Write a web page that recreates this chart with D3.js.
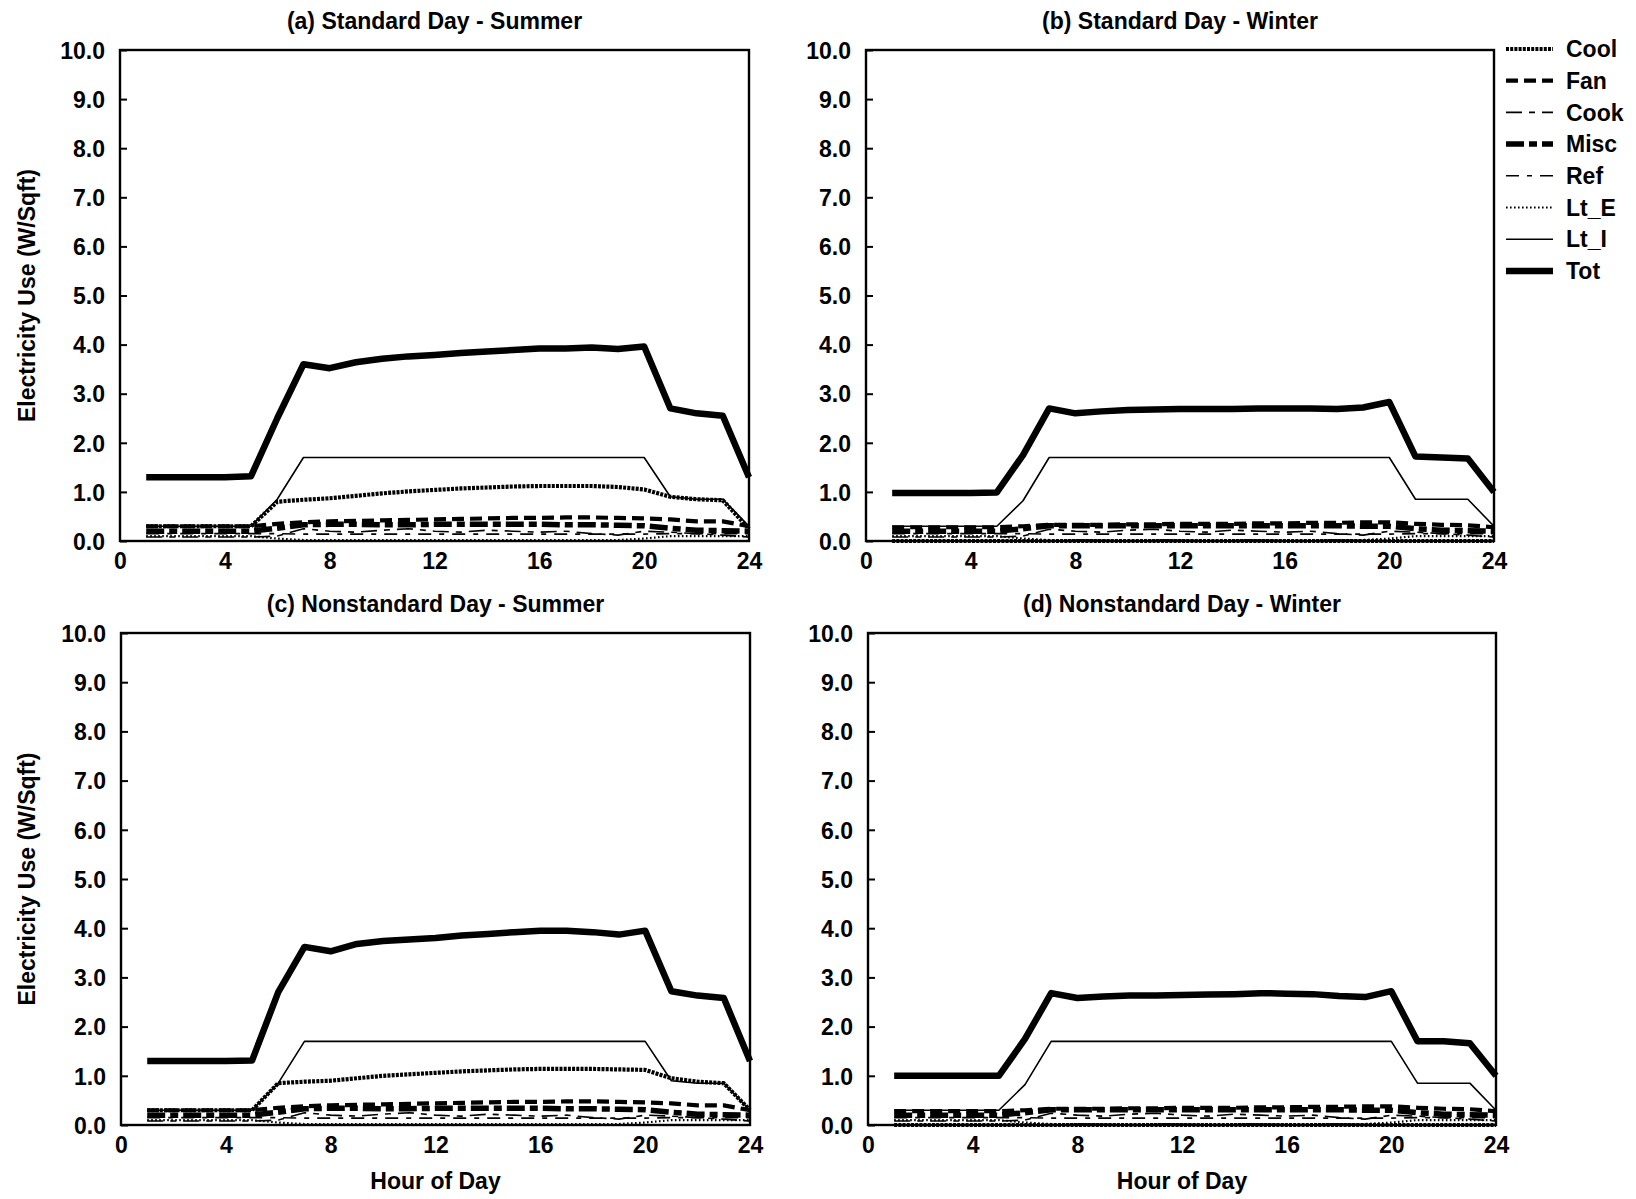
<!DOCTYPE html>
<html><head><meta charset="utf-8">
<script src="https://cdn.jsdelivr.net/npm/d3@7"></script>
<style>
html,body{margin:0;padding:0;background:#fff;}
svg text{font-family:"Liberation Sans",Arial,Helvetica,sans-serif;font-weight:bold;fill:#000;}
</style></head>
<body>
<svg id="chart" width="1636" height="1199"></svg>
<script>
// ---------- data ----------
const hours = [1,2,3,4,5,6,7,8,9,10,11,12,13,14,15,16,17,18,19,20,21,22,23,24];
const xTicks = [0,4,8,12,16,20,24];
const yTicks = [0,1,2,3,4,5,6,7,8,9,10];
const seriesNames = ["Cool","Fan","Cook","Misc","Ref","Lt_E","Lt_I","Tot"];
const panelTitles = ["(a) Standard Day - Summer","(b) Standard Day - Winter","(c) Nonstandard Day - Summer","(d) Nonstandard Day - Winter"];

// (a) Standard Day - Summer
const cool_a = [0.30,0.30,0.30,0.30,0.30,0.80,0.84,0.87,0.92,0.97,1.01,1.04,1.07,1.09,1.11,1.12,1.12,1.12,1.10,1.05,0.90,0.85,0.83,0.25];
const fan_a  = [0.30,0.30,0.30,0.30,0.30,0.35,0.38,0.40,0.41,0.42,0.43,0.44,0.45,0.46,0.47,0.47,0.48,0.48,0.47,0.46,0.44,0.40,0.40,0.30];
const cook_a = [0.08,0.08,0.08,0.08,0.08,0.10,0.25,0.20,0.18,0.22,0.25,0.20,0.18,0.22,0.20,0.18,0.20,0.15,0.12,0.20,0.18,0.15,0.12,0.08];
const misc_a = [0.20,0.20,0.20,0.20,0.20,0.26,0.33,0.34,0.34,0.33,0.33,0.34,0.34,0.34,0.34,0.34,0.33,0.33,0.32,0.31,0.26,0.22,0.21,0.20];
const ref_a  = [0.15,0.15,0.15,0.15,0.15,0.15,0.14,0.14,0.14,0.14,0.14,0.14,0.14,0.14,0.14,0.14,0.14,0.14,0.14,0.14,0.15,0.15,0.15,0.15];
const lte_a  = [0.10,0.10,0.10,0.10,0.10,0.05,0.02,0.02,0.02,0.02,0.02,0.02,0.02,0.02,0.02,0.02,0.02,0.02,0.02,0.05,0.10,0.10,0.10,0.10];
const lti_a  = [0.30,0.30,0.30,0.30,0.30,0.85,1.70,1.70,1.70,1.70,1.70,1.70,1.70,1.70,1.70,1.70,1.70,1.70,1.70,1.70,0.90,0.85,0.85,0.30];
const tot_a  = [1.30,1.30,1.30,1.30,1.32,2.50,3.60,3.52,3.64,3.71,3.76,3.79,3.83,3.86,3.89,3.92,3.92,3.94,3.91,3.96,2.70,2.60,2.55,1.30];

// (b) Standard Day - Winter
const cool_b = [0,0,0,0,0,0,0,0,0,0,0,0,0,0,0,0,0,0,0,0,0,0,0,0];
const fan_b  = [0.28,0.28,0.28,0.28,0.28,0.30,0.33,0.33,0.33,0.34,0.34,0.35,0.35,0.35,0.36,0.36,0.37,0.37,0.38,0.38,0.35,0.33,0.32,0.28];
const cook_b = [0.08,0.08,0.08,0.08,0.08,0.10,0.24,0.20,0.18,0.22,0.24,0.20,0.18,0.22,0.20,0.18,0.20,0.15,0.12,0.20,0.18,0.15,0.12,0.08];
const misc_b = [0.20,0.20,0.20,0.20,0.20,0.25,0.31,0.31,0.31,0.31,0.31,0.31,0.31,0.31,0.31,0.31,0.31,0.31,0.30,0.30,0.25,0.22,0.21,0.20];
const ref_b  = [0.15,0.15,0.15,0.15,0.15,0.15,0.14,0.14,0.14,0.14,0.14,0.14,0.14,0.14,0.14,0.14,0.14,0.14,0.14,0.14,0.15,0.15,0.15,0.15];
const lte_b  = [0.10,0.10,0.10,0.10,0.10,0.05,0.02,0.02,0.02,0.02,0.02,0.02,0.02,0.02,0.02,0.02,0.02,0.02,0.02,0.05,0.10,0.10,0.10,0.10];
const lti_b  = [0.30,0.30,0.30,0.30,0.30,0.82,1.70,1.70,1.70,1.70,1.70,1.70,1.70,1.70,1.70,1.70,1.70,1.70,1.70,1.70,0.85,0.85,0.85,0.30];
const tot_b  = [0.98,0.98,0.98,0.98,0.99,1.75,2.70,2.60,2.64,2.67,2.68,2.69,2.69,2.69,2.70,2.70,2.70,2.69,2.72,2.83,1.72,1.70,1.68,1.00];

// (c) Nonstandard Day - Summer
const cool_c = [0.30,0.30,0.30,0.30,0.30,0.85,0.88,0.90,0.95,1.00,1.03,1.06,1.09,1.11,1.13,1.14,1.14,1.14,1.13,1.12,0.95,0.88,0.85,0.30];
const fan_c  = [0.30,0.30,0.30,0.30,0.30,0.35,0.38,0.40,0.41,0.42,0.43,0.44,0.45,0.46,0.47,0.47,0.48,0.48,0.47,0.46,0.44,0.40,0.40,0.30];
const cook_c = [0.08,0.08,0.08,0.08,0.08,0.10,0.25,0.20,0.18,0.22,0.25,0.20,0.18,0.22,0.20,0.18,0.20,0.15,0.12,0.20,0.18,0.15,0.12,0.08];
const misc_c = [0.20,0.20,0.20,0.20,0.20,0.26,0.33,0.34,0.34,0.33,0.33,0.34,0.34,0.34,0.34,0.34,0.33,0.33,0.32,0.31,0.26,0.22,0.21,0.20];
const ref_c  = [0.15,0.15,0.15,0.15,0.15,0.15,0.14,0.14,0.14,0.14,0.14,0.14,0.14,0.14,0.14,0.14,0.14,0.14,0.14,0.14,0.15,0.15,0.15,0.15];
const lte_c  = [0.10,0.10,0.10,0.10,0.10,0.05,0.02,0.02,0.02,0.02,0.02,0.02,0.02,0.02,0.02,0.02,0.02,0.02,0.02,0.05,0.10,0.10,0.10,0.10];
const lti_c  = [0.30,0.30,0.30,0.30,0.30,0.85,1.70,1.70,1.70,1.70,1.70,1.70,1.70,1.70,1.70,1.70,1.70,1.70,1.70,1.70,0.90,0.85,0.85,0.30];
const tot_c  = [1.30,1.30,1.30,1.30,1.31,2.70,3.62,3.53,3.68,3.74,3.77,3.80,3.85,3.88,3.92,3.95,3.95,3.92,3.87,3.95,2.72,2.63,2.58,1.30];

// (d) Nonstandard Day - Winter
const cool_d = [0,0,0,0,0,0,0,0,0,0,0,0,0,0,0,0,0,0,0,0,0,0,0,0];
const fan_d  = [0.28,0.28,0.28,0.28,0.28,0.30,0.33,0.33,0.33,0.34,0.34,0.35,0.35,0.35,0.36,0.36,0.37,0.37,0.38,0.38,0.35,0.33,0.32,0.28];
const cook_d = [0.08,0.08,0.08,0.08,0.08,0.10,0.24,0.20,0.18,0.22,0.24,0.20,0.18,0.22,0.20,0.18,0.20,0.15,0.12,0.20,0.18,0.15,0.12,0.08];
const misc_d = [0.20,0.20,0.20,0.20,0.20,0.25,0.31,0.31,0.31,0.31,0.31,0.31,0.31,0.31,0.31,0.31,0.31,0.31,0.30,0.30,0.25,0.22,0.21,0.20];
const ref_d  = [0.15,0.15,0.15,0.15,0.15,0.15,0.14,0.14,0.14,0.14,0.14,0.14,0.14,0.14,0.14,0.14,0.14,0.14,0.14,0.14,0.15,0.15,0.15,0.15];
const lte_d  = [0.10,0.10,0.10,0.10,0.10,0.05,0.02,0.02,0.02,0.02,0.02,0.02,0.02,0.02,0.02,0.02,0.02,0.02,0.02,0.05,0.10,0.10,0.10,0.10];
const lti_d  = [0.30,0.30,0.30,0.30,0.30,0.82,1.70,1.70,1.70,1.70,1.70,1.70,1.70,1.70,1.70,1.70,1.70,1.70,1.70,1.70,0.85,0.85,0.85,0.30];
const tot_d  = [1.00,1.00,1.00,1.00,1.00,1.75,2.68,2.58,2.61,2.63,2.63,2.64,2.65,2.66,2.68,2.67,2.66,2.62,2.60,2.72,1.70,1.70,1.66,1.00];

const panelData = [
  [cool_a,fan_a,cook_a,misc_a,ref_a,lte_a,lti_a,tot_a],
  [cool_b,fan_b,cook_b,misc_b,ref_b,lte_b,lti_b,tot_b],
  [cool_c,fan_c,cook_c,misc_c,ref_c,lte_c,lti_c,tot_c],
  [cool_d,fan_d,cook_d,misc_d,ref_d,lte_d,lti_d,tot_d]
];

// ---------- styles ----------
const styles = {
  "Cool": {w:4.2, dash:"3,1.2"},
  "Fan":  {w:4.2, dash:"12,6"},
  "Cook": {w:1.6, dash:"16,7,6,7"},
  "Misc": {w:5.5, dash:"18,5,8,5"},
  "Ref":  {w:1.6, dash:"13,8,5,8"},
  "Lt_E": {w:2.2, dash:"1.6,2.4"},
  "Lt_I": {w:1.6, dash:null},
  "Tot":  {w:6.5, dash:null}
};

// ---------- layout ----------
const panels = [
  {x0:120, x1:749, y0:50,  y1:541},
  {x0:866, x1:1494,y0:50,  y1:541},
  {x0:121, x1:750, y0:633, y1:1125},
  {x0:868, x1:1496,y0:633, y1:1125}
];

const svg = d3.select("#chart");
const FS = 23;

panels.forEach((p,pi)=>{
  const x = d3.scaleLinear().domain([0,24]).range([p.x0,p.x1]);
  const y = d3.scaleLinear().domain([0,10]).range([p.y1,p.y0]);
  const g = svg.append("g");

  g.append("text").attr("x",(p.x0+p.x1)/2).attr("y",p.y0-21)
    .attr("text-anchor","middle").style("font-size",FS+"px").text(panelTitles[pi]);

  const ya = d3.axisLeft(y).tickValues(yTicks).tickFormat(d3.format(".1f")).tickSizeInner(-7).tickSizeOuter(0).tickPadding(15);
  const yg = g.append("g").attr("transform",`translate(${p.x0},0)`).call(ya);
  yg.select(".domain").remove();
  yg.selectAll("line").attr("stroke","#000").attr("stroke-width",2);
  yg.selectAll("text").style("font-size",FS+"px").style("font-family","Liberation Sans, Arial, sans-serif").style("font-weight","bold").attr("dy","0.36em");

  const xa = d3.axisBottom(x).tickValues(xTicks).tickFormat(d3.format("d")).tickSize(0).tickPadding(12);
  const xg = g.append("g").attr("transform",`translate(0,${p.y1})`).call(xa);
  xg.select(".domain").remove();
  xg.selectAll("text").style("font-size",FS+"px").style("font-family","Liberation Sans, Arial, sans-serif").style("font-weight","bold");

  const line = d3.line().x((d,i)=>x(hours[i])).y(d=>y(d));
  panelData[pi].forEach((vals,si)=>{
    const st = styles[seriesNames[si]];
    g.append("path").datum(vals).attr("d",line)
      .attr("fill","none").attr("stroke","#000")
      .attr("stroke-width",st.w)
      .attr("stroke-dasharray",st.dash)
      .attr("stroke-linejoin","round");
  });

  g.append("rect").attr("x",p.x0).attr("y",p.y0).attr("width",p.x1-p.x0).attr("height",p.y1-p.y0)
    .attr("fill","none").attr("stroke","#000").attr("stroke-width",2.4);

  if (pi%2===0) {
    const cy=(p.y0+p.y1)/2;
    g.append("text").attr("transform",`translate(35,${cy}) rotate(-90)`)
      .attr("text-anchor","middle").style("font-size",FS+"px").text("Electricity Use (W/Sqft)");
  }
  if (pi>=2) {
    g.append("text").attr("x",(p.x0+p.x1)/2).attr("y",1189)
      .attr("text-anchor","middle").style("font-size",FS+"px").text("Hour of Day");
  }
});

// legend
const lg = svg.append("g");
seriesNames.forEach((n,i)=>{
  const yy = 49 + i*31.7;
  const st = styles[n];
  lg.append("line").attr("x1",1506).attr("x2",1553).attr("y1",yy).attr("y2",yy)
    .attr("stroke","#000").attr("stroke-width",st.w).attr("stroke-dasharray",st.dash);
  lg.append("text").attr("x",1566).attr("y",yy).attr("dy","0.36em")
    .style("font-size",FS+"px").text(n);
});
</script>
</body></html>
